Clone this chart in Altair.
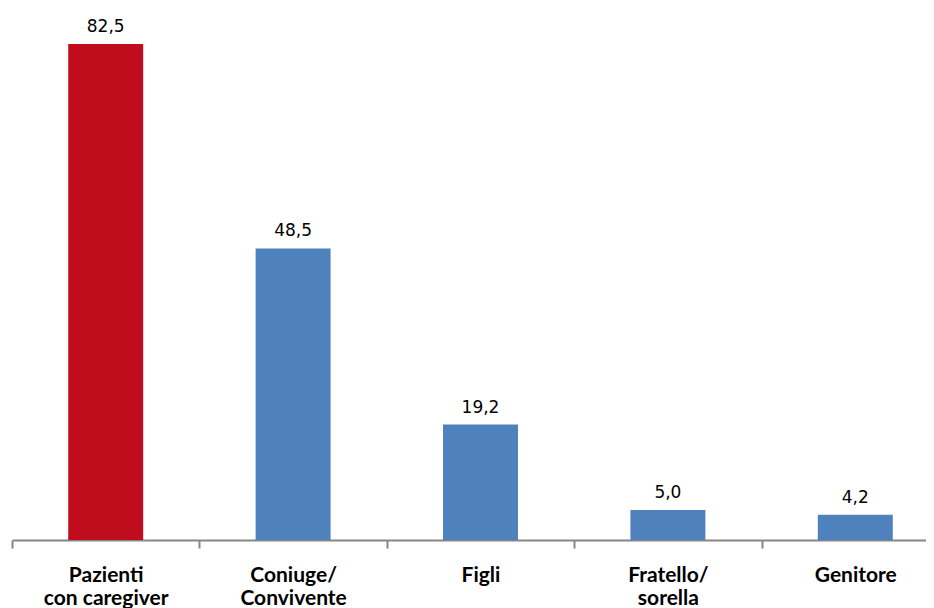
import altair as alt
import pandas as pd

categories = ["Pazienti|con caregiver", "Coniuge/|Convivente", "Figli", "Fratello/|sorella", "Genitore"]
values = [82.5, 48.5, 19.2, 5.0, 4.2]
labels = ["82,5", "48,5", "19,2", "5,0", "4,2"]
colors = ["#C00D1E", "#4F81BD", "#4F81BD", "#4F81BD", "#4F81BD"]

df = pd.DataFrame({"cat": categories, "val": values, "lab": labels, "col": colors})

x = alt.X("cat:N", sort=categories, title=None,
          scale=alt.Scale(paddingInner=0, paddingOuter=0, range=[0, 937]),
          axis=alt.Axis(labelExpr="split(datum.label, '|')", labelAngle=0,
                        tickBand="extent", tickSize=8, tickWidth=2, tickColor="#868686",
                        domainColor="#868686", domainWidth=2,
                        labelFont="Lato", labelFontWeight="bold", labelFontSize=21,
                        labelColor="#000000", labelPadding=16, labelLineHeight=23,
                        labelBaseline="top"))
y = alt.Y("val:Q", scale=alt.Scale(domain=[0, 88], nice=False, zero=True), axis=None)

bars = alt.Chart(df).mark_bar(width=alt.RelativeBandSize(0.4)).encode(
    x=x, y=y, color=alt.Color("col:N", scale=None))
text = alt.Chart(df).mark_text(baseline="alphabetic", dy=-12, font="DejaVu Sans", fontSize=17,
                               color="#000000").encode(x=alt.X("cat:N", sort=categories), y=y, text="lab:N")

chart = (bars + text).properties(
    width=914, height=529,
    autosize=alt.AutoSizeParams(type="none"),
    padding={"left": 4, "top": 3, "right": 0, "bottom": 68}
).configure_view(stroke=None)

chart.save("out.html", embed_options={"renderer": "svg", "actions": False})
